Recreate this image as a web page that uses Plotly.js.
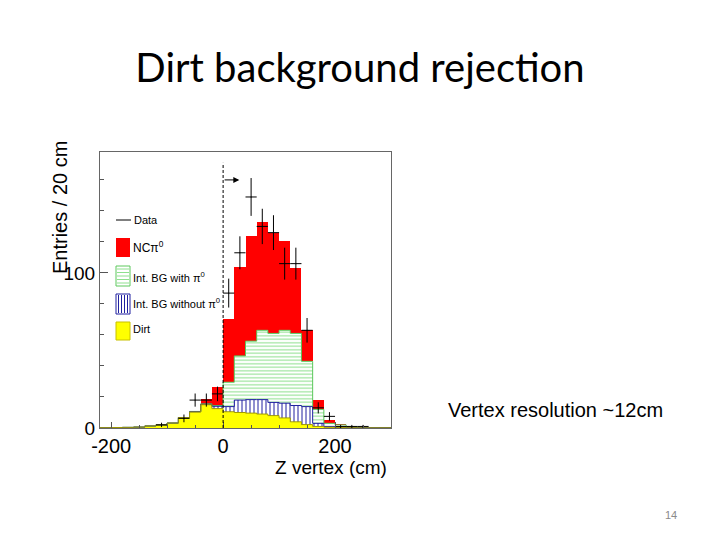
<!DOCTYPE html>
<html><head><meta charset="utf-8">
<script src="https://cdn.plot.ly/plotly-3.0.1.min.js"></script>
<style>body{margin:0;background:#fff}#chart{width:720px;height:540px}</style>
</head><body><div id="chart"></div>
<script>
// ---- data (Z vertex bins of 20 cm, bin centres) ----
const binCenters = [-210,-190,-170,-150,-130,-110,-90,-70,-50,-30,-10,10,30,50,70,90,110,130,150,170,190,210,230,250,270,290];
const dirt       = [0.2,0.3,0.4,0.6,1.3,2,3.2,6.7,10.3,15,12.5,10.5,10,9.6,9,8,6.5,4,2.2,1,0.5,0.3,0.2,0.1,0.1,0.1];
const intBgNoPi0 = [0,0,0,0,0,0,0,0,0.2,0.3,1.5,3.3,8,8.7,9.3,8.5,9.5,10.5,11.6,2,0.5,0.2,0.1,0.1,0,0];
const intBgPi0   = [0,0,0,0,0,0,0,0,0.2,0.3,0.5,15.7,28.5,37.7,44.7,44.5,47,46.5,29.2,9,2,1.5,0.6,0.2,0.1,0.1];
const ncPi0      = [0,0,0,0,0,0,0.1,0.1,0.3,3.4,12.2,40.5,57.5,68,70,65,57.6,42.5,20,6,2.2,0.4,0.2,0.2,0.2,0.2];
const dataCounts = [null,null,null,null,null,2,null,6.2,18,18,22,87,113,149,130,126,106,106,63,13,7.5,1,1,1,null,null];
const xTickVals = [-200,0,200];
const xTickText = ['-200','0','200'];
const yTickVals = [0,100];
const yTickText = ['0','100'];
const binWidth = 20;
const cutZ = 0, cutLineTop = 171, cutArrowY = 160, cutArrowEnd = 29;

// cumulative stacks for outline steps
function cum(...arrs){return binCenters.map((_,i)=>arrs.reduce((s,a)=>s+a[i],0));}
const cDirt = cum(dirt), cNo = cum(dirt,intBgNoPi0), cWith = cum(dirt,intBgNoPi0,intBgPi0);
const edges = binCenters.map(c=>c-binWidth/2).concat([binCenters[binCenters.length-1]+binWidth/2]);
function step(c){return {x:edges, y:c.concat([c[c.length-1]])};}

const F = 'Liberation Sans, Arial, sans-serif';
const traces = [
  {type:'bar', x:binCenters, y:dirt, width:binWidth, marker:{color:'#ffff00', line:{width:0}}, hoverinfo:'skip'},
  {type:'bar', x:binCenters, y:intBgNoPi0, width:binWidth, marker:{color:'white', line:{width:0},
     pattern:{shape:'|', fgcolor:'#2020a0', bgcolor:'white', size:4, solidity:0.25}}, hoverinfo:'skip'},
  {type:'bar', x:binCenters, y:intBgPi0, width:binWidth, marker:{color:'white', line:{width:0},
     pattern:{shape:'-', fgcolor:'#8ee08e', bgcolor:'white', size:3.5, solidity:0.3}}, hoverinfo:'skip'},
  {type:'bar', x:binCenters, y:ncPi0, width:binWidth, marker:{color:'#ff0000', line:{width:0}}, hoverinfo:'skip'},
  Object.assign({type:'scatter', mode:'lines', line:{shape:'hv', color:'#5cc85c', width:1}}, step(cWith)),
  Object.assign({type:'scatter', mode:'lines', line:{shape:'hv', color:'#2020a0', width:1}}, step(cNo)),
  Object.assign({type:'scatter', mode:'lines', line:{shape:'hv', color:'#a09a00', width:1}}, step(cDirt)),
  {type:'scatter', mode:'markers', x:binCenters, y:dataCounts, marker:{size:1, color:'black'},
   error_y:{type:'sqrt', color:'black', thickness:1, width:0},
   error_x:{type:'constant', value:binWidth/2, color:'black', thickness:1, width:0}}
];

// legend helpers (page pixels -> paper)
const L=100,R=391,T=152,B=428;
const px=p=>(p-L)/(R-L), py=p=>(B-p)/(B-T);
const shapes = [
  {type:'line', xref:'x', yref:'y', x0:cutZ, x1:cutZ, y0:0, y1:cutLineTop, line:{color:'black', width:1, dash:'3px,2px'}},
  {type:'line', xref:'paper', yref:'paper', x0:px(116), x1:px(131), y0:py(220), y1:py(220), line:{color:'black', width:1}},
  {type:'rect', xref:'paper', yref:'paper', x0:px(116), x1:px(130), y0:py(257), y1:py(238), fillcolor:'#ff0000', line:{width:0}},
  {type:'rect', xref:'paper', yref:'paper', x0:px(116), x1:px(130), y0:py(286), y1:py(266), fillcolor:'white', line:{color:'#5cc85c', width:1}},
  {type:'rect', xref:'paper', yref:'paper', x0:px(116), x1:px(130), y0:py(314), y1:py(294), fillcolor:'white', line:{color:'#2020a0', width:1}},
  {type:'rect', xref:'paper', yref:'paper', x0:px(116), x1:px(130), y0:py(340), y1:py(322), fillcolor:'#ffff00', line:{color:'#c8c000', width:1}}
];
for(let y=269;y<285;y+=3.5) shapes.push({type:'line', xref:'paper', yref:'paper', x0:px(117), x1:px(129), y0:py(y), y1:py(y), line:{color:'#8ee08e', width:1}});
for(let x=118.5;x<130;x+=3) shapes.push({type:'line', xref:'paper', yref:'paper', x0:px(x), x1:px(x), y0:py(295), y1:py(313), line:{color:'#2020a0', width:1}});

function txt(t,x,y,size,extra){return Object.assign({text:t, xref:'paper', yref:'paper', x:px(x), y:py(y), xanchor:'left', yanchor:'middle', showarrow:false, font:{family:F, size:size, color:'black'}}, extra||{});}
const annotations = [
  txt('Data',132,220,11),
  txt('NCπ<sup>0</sup>',131,247,12),
  txt('Int. BG with π<sup>0</sup>',131,277,11),
  txt('Int. BG without π<sup>0</sup>',131,303,11),
  txt('Dirt',131,329,11),
  txt('Entries / 20 cm',60,208,20,{xanchor:'center', textangle:-90}),
  txt('Z vertex (cm)',389,467,19,{xanchor:'right'}),
  txt('Vertex resolution ~12cm',446,410,20),
  {text:'14', xref:'paper', yref:'paper', x:px(671), y:py(515), xanchor:'center', yanchor:'middle', showarrow:false, font:{family:F, size:11, color:'#8a8a8a'}},
  {text:'', x:cutArrowEnd, y:cutArrowY, ax:cutZ, ay:cutArrowY, axref:'x', ayref:'y', xref:'x', yref:'y', showarrow:true, arrowhead:2, arrowsize:1.2, arrowwidth:1, arrowcolor:'black'}
];

const layout = {
  width:720, height:540, paper_bgcolor:'white', plot_bgcolor:'white',
  margin:{l:L, r:720-R, t:T, b:540-B},
  barmode:'stack', bargap:0, showlegend:false,
  title:{text:'Dirt background rejection', x:0.5, xref:'container', xanchor:'center', y:1-68/540, yref:'container', yanchor:'middle',
         font:{family:'Lato, Carlito, sans-serif', size:40, color:'black'}},
  xaxis:{range:[-220,300], tickvals:xTickVals, ticktext:xTickText, ticks:'inside', ticklen:6, tickcolor:'#555',
         minor:{dtick:50, tick0:0, ticks:'inside', ticklen:3, tickcolor:'#555'},
         showline:true, mirror:true, linecolor:'#666', linewidth:1, showgrid:false, zeroline:false,
         tickfont:{family:F, size:20, color:'black'}},
  yaxis:{range:[0,178], tickvals:yTickVals, ticktext:yTickText, ticks:'inside', ticklen:8, tickcolor:'#555',
         minor:{dtick:20, tick0:0, ticks:'inside', ticklen:4, tickcolor:'#555'},
         showline:true, mirror:true, linecolor:'#666', linewidth:1, showgrid:false, zeroline:false,
         tickfont:{family:F, size:19, color:'black'}},
  shapes:shapes, annotations:annotations
};
Plotly.newPlot('chart', traces, layout, {staticPlot:true});
</script></body></html>
